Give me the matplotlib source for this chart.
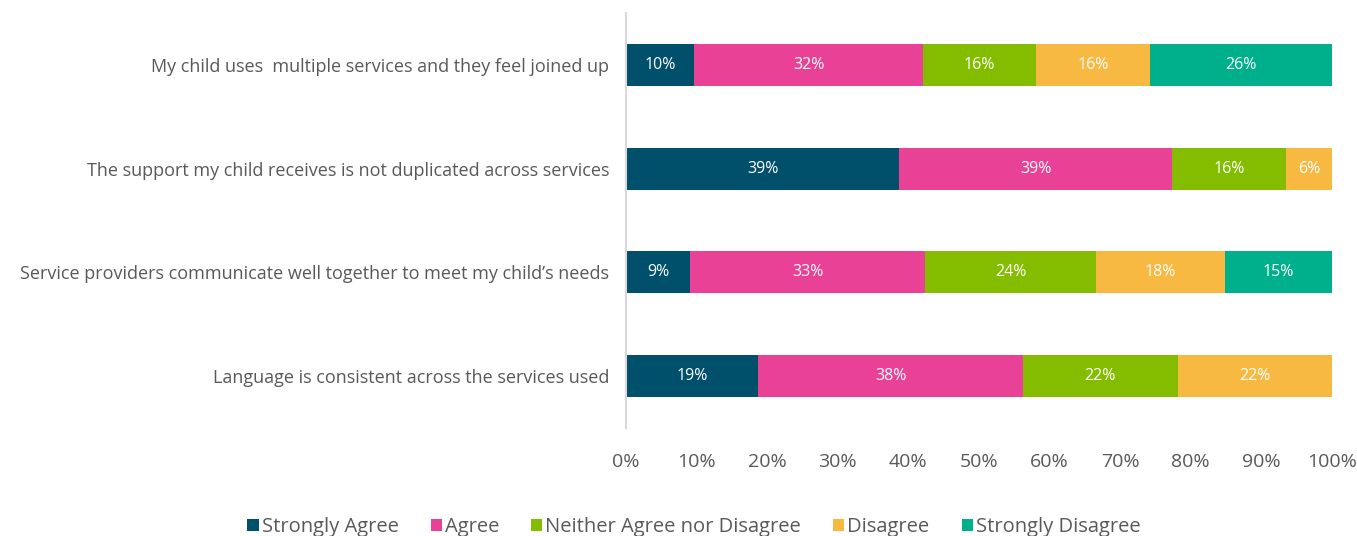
import numpy as np
import matplotlib.pyplot as plt
from matplotlib.ticker import PercentFormatter

plt.rcParams['font.family'] = ['Open Sans', 'DejaVu Sans']

statements = [
    'My child uses  multiple services and they feel joined up',
    'The support my child receives is not duplicated across services',
    'Service providers communicate well together to meet my child\u2019s needs',
    'Language is consistent across the services used',
]
responses = ['Strongly Agree', 'Agree', 'Neither Agree nor Disagree',
             'Disagree', 'Strongly Disagree']

# share of respondents (%) per statement
strongly_agree = [9.7, 38.7, 9.1, 18.75]
agree = [32.3, 38.7, 33.3, 37.5]
neither = [16.1, 16.1, 24.2, 21.9]
disagree = [16.1, 6.5, 18.2, 21.85]
strongly_disagree = [25.8, 0.0, 15.2, 0.0]

colors = ['#004f6b', '#e84196', '#84bd00', '#f8b943', '#00b08c']

series = [strongly_agree, agree, neither, disagree, strongly_disagree]

fig = plt.figure(figsize=(13.57, 5.36), dpi=100)
ax = fig.add_axes([626 / 1357, (536 - 428) / 536, 706 / 1357, 415 / 536])

y = np.arange(len(statements))
left = np.zeros(len(statements))
for name, vals, col in zip(responses, series, colors):
    vals = np.array(vals)
    bars = ax.barh(y, vals, left=left, height=0.405, color=col, label=name)
    for b, v in zip(bars, vals):
        if v > 0:
            ax.text(b.get_x() + b.get_width() / 2, b.get_y() + b.get_height() / 2,
                    f'{v:.0f}%', ha='center', va='center', color='white', fontsize=11.5)
    left += vals

ax.set_xlim(0, 100)
ax.set_ylim(len(statements) - 0.5, -0.5)
ax.set_yticks(y)
ax.set_yticklabels(statements, fontsize=13, color='#595959')
ax.set_xticks(np.arange(0, 101, 10))
ax.xaxis.set_major_formatter(PercentFormatter(decimals=0))
ax.tick_params(axis='x', labelsize=14, labelcolor='#595959', length=0, pad=18)
ax.tick_params(axis='y', length=0, pad=12)
for s in ['top', 'right', 'bottom']:
    ax.spines[s].set_visible(False)
ax.spines['left'].set_color('#d9d9d9')
ax.spines['left'].set_linewidth(1.5)

leg = fig.legend(loc='center', bbox_to_anchor=(694 / 1357, 1 - 527 / 536), ncol=5,
                 frameon=False, fontsize=14.5, handlelength=0.55, handleheight=0.55,
                 handletextpad=0.15, columnspacing=1.6, labelcolor='#595959')

fig.savefig('out.png', dpi=100)
